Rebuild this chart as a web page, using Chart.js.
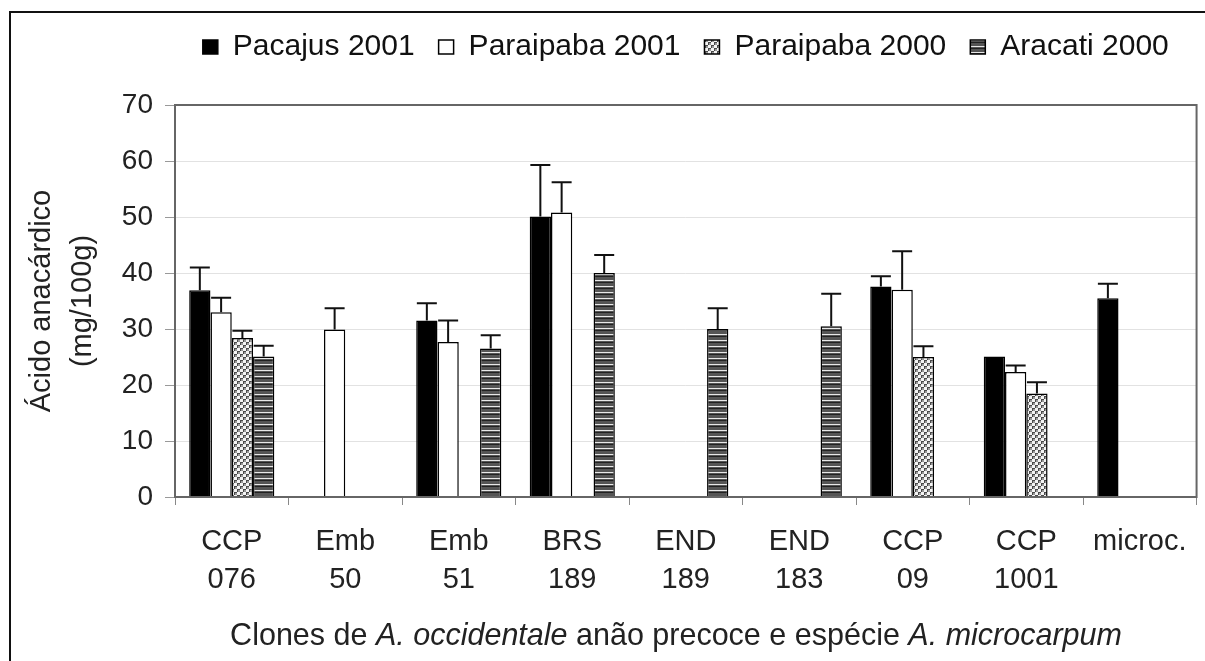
<!DOCTYPE html>
<html>
<head>
<meta charset="utf-8">
<script src="https://cdn.jsdelivr.net/npm/chart.js@4"></script>
<style>
  body { margin: 0; background: #fff; }
  canvas { display: block; }
</style>
</head>
<body>
<canvas id="acidChart" width="1205" height="661"></canvas>
<script>
var FONT = '"Liberation Sans", Arial, sans-serif';

// clones (two line tick labels)
var clones = [['CCP', '076'], ['Emb', '50'], ['Emb', '51'], ['BRS', '189'], ['END', '189'],
              ['END', '183'], ['CCP', '09'], ['CCP', '1001'], 'microc.'];

var seriesNames = ['Pacajus 2001', 'Paraipaba 2001', 'Paraipaba 2000', 'Aracati 2000'];

// mean values (mg/100g)
var pacajus2001   = [36.9, null, 31.5, 50.1, null, null, 37.6, 25.1, 35.5];
var paraipaba2001 = [33.0, 29.9, 27.7, 50.8, null, null, 37.0, 22.3, null];
var paraipaba2000 = [28.4, null, null, null, null, null, 25.0, 18.5, null];
var aracati2000   = [25.1, null, 26.5, 40.0, 30.0, 30.5, null, null, null];

// upper error (standard deviation)
var errPacajus2001   = [4.1, null, 3.1, 9.2, null, null, 1.8, 0, 2.6];
var errParaipaba2001 = [2.6, 3.8, 3.8, 5.4, null, null, 6.9, 1.2, null];
var errParaipaba2000 = [1.3, null, null, null, null, null, 1.9, 2.0, null];
var errAracati2000   = [1.9, null, 2.4, 3.2, 3.7, 5.8, null, null, null];

var yTicks = [0, 10, 20, 30, 40, 50, 60, 70];

function checkerPattern() {
    var c = document.createElement('canvas');
    c.width = 6; c.height = 6;
    var g = c.getContext('2d');
    g.fillStyle = '#f4f4f4';
    g.fillRect(0, 0, 6, 6);
    g.fillStyle = '#4a4a4a';
    g.fillRect(0, 0, 3, 1);
    g.fillRect(0, 0, 1, 3);
    g.fillRect(3, 3, 3, 1);
    g.fillRect(3, 3, 1, 3);
    g.fillStyle = '#999';
    g.fillRect(1, 1, 2, 2);
    g.fillRect(4, 4, 2, 2);
    return g.createPattern(c, 'repeat');
}

function stripePattern() {
    var c = document.createElement('canvas');
    c.width = 4; c.height = 6;
    var g = c.getContext('2d');
    g.fillStyle = '#555';
    g.fillRect(0, 0, 4, 6);
    g.fillStyle = '#e8e8e8';
    g.fillRect(0, 4, 4, 1);
    g.fillStyle = '#222';
    g.fillRect(0, 0, 4, 1);
    return g.createPattern(c, 'repeat');
}

var errorBars = {
    id: 'errorBars',
    afterDatasetsDraw: function (chart) {
        var ctx = chart.ctx;
        var y = chart.scales.y;
        ctx.save();
        ctx.strokeStyle = '#111';
        ctx.lineWidth = 2;
        chart.data.datasets.forEach(function (ds, i) {
            var meta = chart.getDatasetMeta(i);
            meta.data.forEach(function (bar, j) {
                var v = ds.data[j];
                var e = ds.errors[j];
                if (v == null || !e) return;
                var top = y.getPixelForValue(v + e);
                ctx.beginPath();
                ctx.moveTo(bar.x, bar.y);
                ctx.lineTo(bar.x, top);
                ctx.moveTo(bar.x - 10, top);
                ctx.lineTo(bar.x + 10, top);
                ctx.stroke();
            });
        });
        ctx.restore();
    }
};

// extra room under the legend
var legendGap = {
    id: 'legendGap',
    beforeInit: function (chart) {
        var fit = chart.legend.fit;
        chart.legend.fit = function () {
            fit.bind(chart.legend)();
            this.height += 33;
        };
    }
};

var frameAndTitle = {
    id: 'frameAndTitle',
    beforeDraw: function (chart) {
        var ctx = chart.ctx;
        ctx.save();
        ctx.fillStyle = '#fff';
        ctx.fillRect(0, 0, chart.width, chart.height);
        ctx.strokeStyle = '#111';
        ctx.lineWidth = 2;
        ctx.strokeRect(10, 12, chart.width + 10, chart.height + 10);
        ctx.restore();
    },
    afterDatasetsDraw: function (chart) {
        var a = chart.chartArea;
        var ctx = chart.ctx;
        ctx.save();
        ctx.strokeStyle = '#666';
        ctx.lineWidth = 2;
        ctx.strokeRect(a.left, a.top, a.right - a.left, a.bottom - a.top);
        ctx.restore();
    },
    afterDraw: function (chart) {
        // x axis title with italic species names
        var parts = [['Clones de ', false], ['A. occidentale', true], [' anão precoce e espécie ', false], ['A. microcarpum', true]];
        var ctx = chart.ctx;
        ctx.save();
        ctx.fillStyle = '#222';
        ctx.textBaseline = 'alphabetic';
        var size = 30.5;
        var total = 0;
        parts.forEach(function (p) {
            ctx.font = (p[1] ? 'italic ' : '') + size + 'px ' + FONT;
            total += ctx.measureText(p[0]).width;
        });
        var x = 676 - total / 2;
        parts.forEach(function (p) {
            ctx.font = (p[1] ? 'italic ' : '') + size + 'px ' + FONT;
            ctx.fillText(p[0], x, 645);
            x += ctx.measureText(p[0]).width;
        });
        ctx.restore();
    }
};

var ctx = document.getElementById('acidChart').getContext('2d');
var acidChart = new Chart(ctx, {
    type: 'bar',
    data: {
        labels: clones,
        datasets: [{
            label: seriesNames[0],
            data: pacajus2001,
            errors: errPacajus2001,
            backgroundColor: '#000',
            borderColor: '#000',
            borderWidth: 1.5
        }, {
            label: seriesNames[1],
            data: paraipaba2001,
            errors: errParaipaba2001,
            backgroundColor: '#fff',
            borderColor: '#000',
            borderWidth: 1.5
        }, {
            label: seriesNames[2],
            data: paraipaba2000,
            errors: errParaipaba2000,
            backgroundColor: checkerPattern(),
            borderColor: '#000',
            borderWidth: 1.5
        }, {
            label: seriesNames[3],
            data: aracati2000,
            errors: errAracati2000,
            backgroundColor: stripePattern(),
            borderColor: '#000',
            borderWidth: 1.5
        }]
    },
    plugins: [legendGap, frameAndTitle, errorBars],
    options: {
        responsive: false,
        animation: false,
        categoryPercentage: 0.75,
        barPercentage: 1.0,
        layout: { padding: { left: 10, right: 8, top: 8, bottom: 0 } },
        plugins: {
            legend: {
                display: true,
                position: 'top',
                fullSize: false,
                labels: {
                    color: '#111',
                    font: { family: FONT, size: 30 },
                    boxWidth: 15,
                    boxHeight: 14,
                    padding: 24
                }
            },
            tooltip: { enabled: false }
        },
        scales: {
            x: {
                grid: {
                    drawOnChartArea: false,
                    color: '#888',
                    tickLength: 8
                },
                border: { display: false },
                ticks: {
                    color: '#222',
                    font: { family: FONT, size: 29, lineHeight: 1.3 },
                    padding: 18,
                    maxRotation: 0,
                    autoSkip: false
                },
                afterFit: function (scale) { scale.height = 164; }
            },
            y: {
                min: 0,
                max: 70,
                afterBuildTicks: function (scale) {
                    scale.ticks = yTicks.map(function (v) { return { value: v }; });
                },
                grid: {
                    color: '#e2e2e2',
                    tickColor: '#999',
                    tickLength: 10,
                    lineWidth: 1
                },
                border: { display: false },
                ticks: {
                    color: '#222',
                    font: { family: FONT, size: 28 },
                    padding: 12
                },
                title: {
                    display: true,
                    text: ['Ácido anacárdico', '(mg/100g)'],
                    color: '#222',
                    font: { family: FONT, size: 29, lineHeight: 1.4 },
                    padding: { top: 12, bottom: 4 }
                },
                afterFit: function (scale) { scale.width = 165; }
            }
        }
    }
});
</script>
</body>
</html>
